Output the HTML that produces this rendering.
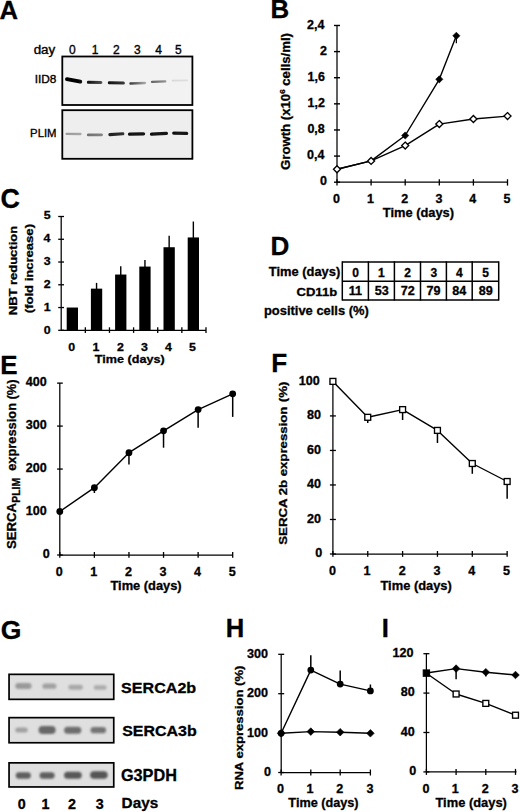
<!DOCTYPE html>
<html><head><meta charset="utf-8"><style>
html,body{margin:0;padding:0;background:#fff;}
svg{display:block;font-family:"Liberation Sans",sans-serif;}
text{stroke:#000;stroke-width:0.3px;paint-order:stroke;}
</style></head><body>
<svg width="520" height="812" viewBox="0 0 520 812">
<defs>
<filter id="bl" filterUnits="userSpaceOnUse" x="0" y="0" width="520" height="812"><feGaussianBlur stdDeviation="0.55"/></filter>
<filter id="bl2" x="-30%" y="-100%" width="160%" height="300%"><feGaussianBlur stdDeviation="1.25"/></filter>
</defs>
<text transform="translate(-0.54 19.2) scale(1.000 1)" font-size="25.65" font-weight="bold" fill="#000">A</text>
<g fill="none">
<rect x="62.3" y="56.5" width="130.1" height="48.5" fill="#f2f2f2" stroke="#000" stroke-width="1.8"/>
<rect x="62.3" y="110.2" width="130.1" height="48.6" fill="#eeeeee" stroke="#000" stroke-width="1.8"/>
</g>
<linearGradient id="g5" gradientUnits="userSpaceOnUse" x1="65" x2="82.2" y1="0" y2="0"><stop offset="0" stop-color="#000"/><stop offset="1" stop-color="#080808"/></linearGradient>
<line x1="66.9" y1="79.1" x2="80.3" y2="81.7" stroke="url(#g5)" stroke-width="3.8" stroke-linecap="round" filter="url(#bl)"/>
<linearGradient id="g7" gradientUnits="userSpaceOnUse" x1="86.9" x2="102.4" y1="0" y2="0"><stop offset="0" stop-color="#0a0a0a"/><stop offset="1" stop-color="#555"/></linearGradient>
<line x1="88.4" y1="82.2" x2="100.9" y2="82.5" stroke="url(#g7)" stroke-width="3" stroke-linecap="round" filter="url(#bl)"/>
<linearGradient id="g9" gradientUnits="userSpaceOnUse" x1="107.8" x2="124.9" y1="0" y2="0"><stop offset="0" stop-color="#111"/><stop offset="1" stop-color="#3a3a3a"/></linearGradient>
<line x1="109.3" y1="82.8" x2="123.4" y2="83.1" stroke="url(#g9)" stroke-width="3" stroke-linecap="round" filter="url(#bl)"/>
<linearGradient id="g11" gradientUnits="userSpaceOnUse" x1="129.3" x2="146.2" y1="0" y2="0"><stop offset="0" stop-color="#3a3a3a"/><stop offset="1" stop-color="#b0b0b0"/></linearGradient>
<line x1="130.55" y1="83.5" x2="144.95" y2="82.9" stroke="url(#g11)" stroke-width="2.5" stroke-linecap="round" filter="url(#bl)"/>
<linearGradient id="g13" gradientUnits="userSpaceOnUse" x1="150.9" x2="166.4" y1="0" y2="0"><stop offset="0" stop-color="#606060"/><stop offset="1" stop-color="#959595"/></linearGradient>
<line x1="152.1" y1="81.9" x2="165.2" y2="81.4" stroke="url(#g13)" stroke-width="2.4" stroke-linecap="round" filter="url(#bl)"/>
<linearGradient id="g15" gradientUnits="userSpaceOnUse" x1="171.6" x2="188" y1="0" y2="0"><stop offset="0" stop-color="#d8d8d8"/><stop offset="1" stop-color="#dedede"/></linearGradient>
<line x1="172.55" y1="80.6" x2="187.05" y2="80.4" stroke="url(#g15)" stroke-width="1.9" stroke-linecap="round" filter="url(#bl)"/>
<linearGradient id="g17" gradientUnits="userSpaceOnUse" x1="65.4" x2="81.6" y1="0" y2="0"><stop offset="0" stop-color="#9a9a9a"/><stop offset="1" stop-color="#a8a8a8"/></linearGradient>
<line x1="66.55" y1="133.8" x2="80.45" y2="134" stroke="url(#g17)" stroke-width="2.3" stroke-linecap="round" filter="url(#bl)"/>
<linearGradient id="g19" gradientUnits="userSpaceOnUse" x1="86.9" x2="103" y1="0" y2="0"><stop offset="0" stop-color="#707070"/><stop offset="1" stop-color="#858585"/></linearGradient>
<line x1="88.25" y1="134.9" x2="101.65" y2="134.8" stroke="url(#g19)" stroke-width="2.7" stroke-linecap="round" filter="url(#bl)"/>
<linearGradient id="g21" gradientUnits="userSpaceOnUse" x1="108.3" x2="124.4" y1="0" y2="0"><stop offset="0" stop-color="#1e1e1e"/><stop offset="1" stop-color="#333"/></linearGradient>
<line x1="109.85" y1="134.6" x2="122.85" y2="133.8" stroke="url(#g21)" stroke-width="3.1" stroke-linecap="round" filter="url(#bl)"/>
<linearGradient id="g23" gradientUnits="userSpaceOnUse" x1="127.9" x2="145.2" y1="0" y2="0"><stop offset="0" stop-color="#101010"/><stop offset="1" stop-color="#181818"/></linearGradient>
<line x1="129.55" y1="134.2" x2="143.55" y2="133.9" stroke="url(#g23)" stroke-width="3.3" stroke-linecap="round" filter="url(#bl)"/>
<linearGradient id="g25" gradientUnits="userSpaceOnUse" x1="149.9" x2="168.1" y1="0" y2="0"><stop offset="0" stop-color="#101010"/><stop offset="1" stop-color="#181818"/></linearGradient>
<line x1="151.55" y1="134.2" x2="166.45" y2="133.4" stroke="url(#g25)" stroke-width="3.3" stroke-linecap="round" filter="url(#bl)"/>
<linearGradient id="g27" gradientUnits="userSpaceOnUse" x1="172.1" x2="188.3" y1="0" y2="0"><stop offset="0" stop-color="#101010"/><stop offset="1" stop-color="#181818"/></linearGradient>
<line x1="173.75" y1="133.1" x2="186.65" y2="133.4" stroke="url(#g27)" stroke-width="3.3" stroke-linecap="round" filter="url(#bl)"/>
<text transform="translate(33.66 54.41) scale(1.130 1)" font-size="11.87" font-weight="normal" fill="#000" style="stroke-width:0.35px">day</text>
<text transform="translate(68.97 54.2) scale(1.000 1)" font-size="12" font-weight="normal" fill="#000" style="stroke-width:0.35px">0</text>
<text transform="translate(91.82 54.2) scale(1.000 1)" font-size="12" font-weight="normal" fill="#000" style="stroke-width:0.35px">1</text>
<text transform="translate(113.07 54.2) scale(1.000 1)" font-size="12" font-weight="normal" fill="#000" style="stroke-width:0.35px">2</text>
<text transform="translate(133.9 54.2) scale(1.000 1)" font-size="12" font-weight="normal" fill="#000" style="stroke-width:0.35px">3</text>
<text transform="translate(155.3 54.2) scale(1.000 1)" font-size="12" font-weight="normal" fill="#000" style="stroke-width:0.35px">4</text>
<text transform="translate(174.97 54.2) scale(1.000 1)" font-size="12" font-weight="normal" fill="#000" style="stroke-width:0.35px">5</text>
<text transform="translate(34.73 82.89) scale(1.078 1)" font-size="10.99" font-weight="normal" fill="#000" style="stroke-width:0.35px">IID8</text>
<text transform="translate(30.09 137.2) scale(0.978 1)" font-size="11.59" font-weight="normal" fill="#000" style="stroke-width:0.35px">PLIM</text>
<text transform="translate(270.62 18.35) scale(1.000 1)" font-size="25.87" font-weight="bold" fill="#000">B</text>
<line x1="337" y1="25.5" x2="337" y2="182.2" stroke="#000" stroke-width="1.25"/>
<line x1="337" y1="182.2" x2="508" y2="182.2" stroke="#000" stroke-width="1.25"/>
<line x1="334" y1="182.2" x2="340" y2="182.2" stroke="#000" stroke-width="1.4"/>
<line x1="334" y1="156.08" x2="340" y2="156.08" stroke="#000" stroke-width="1.4"/>
<line x1="334" y1="129.96" x2="340" y2="129.96" stroke="#000" stroke-width="1.4"/>
<line x1="334" y1="103.84" x2="340" y2="103.84" stroke="#000" stroke-width="1.4"/>
<line x1="334" y1="77.72" x2="340" y2="77.72" stroke="#000" stroke-width="1.4"/>
<line x1="334" y1="51.6" x2="340" y2="51.6" stroke="#000" stroke-width="1.4"/>
<line x1="334" y1="25.48" x2="340" y2="25.48" stroke="#000" stroke-width="1.4"/>
<line x1="337" y1="179.2" x2="337" y2="185.6" stroke="#000" stroke-width="1.3"/>
<line x1="371.1" y1="179.2" x2="371.1" y2="185.6" stroke="#000" stroke-width="1.3"/>
<line x1="405.2" y1="179.2" x2="405.2" y2="185.6" stroke="#000" stroke-width="1.3"/>
<line x1="439.3" y1="179.2" x2="439.3" y2="185.6" stroke="#000" stroke-width="1.3"/>
<line x1="473.4" y1="179.2" x2="473.4" y2="185.6" stroke="#000" stroke-width="1.3"/>
<line x1="507.5" y1="179.2" x2="507.5" y2="185.6" stroke="#000" stroke-width="1.3"/>
<text transform="translate(319.97 185.4) scale(1.040 1)" font-size="12" font-weight="bold" fill="#000">0</text>
<text transform="translate(307.12 159.28) scale(1.040 1)" font-size="12" font-weight="bold" fill="#000">0,4</text>
<text transform="translate(307.43 133.16) scale(1.040 1)" font-size="12" font-weight="bold" fill="#000">0,8</text>
<text transform="translate(307.55 107.04) scale(1.040 1)" font-size="12" font-weight="bold" fill="#000">1,2</text>
<text transform="translate(307.49 80.92) scale(1.040 1)" font-size="12" font-weight="bold" fill="#000">1,6</text>
<text transform="translate(319.97 54.8) scale(1.040 1)" font-size="12" font-weight="bold" fill="#000">2</text>
<text transform="translate(307.12 28.68) scale(1.040 1)" font-size="12" font-weight="bold" fill="#000">2,4</text>
<text transform="translate(333.04 202.5) scale(1.040 1)" font-size="12" font-weight="bold" fill="#000">0</text>
<text transform="translate(366.89 202.5) scale(1.040 1)" font-size="12" font-weight="bold" fill="#000">1</text>
<text transform="translate(401.27 202.5) scale(1.040 1)" font-size="12" font-weight="bold" fill="#000">2</text>
<text transform="translate(435.4 202.5) scale(1.040 1)" font-size="12" font-weight="bold" fill="#000">3</text>
<text transform="translate(469.37 202.5) scale(1.040 1)" font-size="12" font-weight="bold" fill="#000">4</text>
<text transform="translate(503.51 202.5) scale(1.040 1)" font-size="12" font-weight="bold" fill="#000">5</text>
<text transform="translate(382.87 217.26) scale(1.064 1)" font-size="12.09" font-weight="bold" fill="#000">Time (days)</text>
<text transform="translate(289.9 170.0) rotate(-90)" font-size="13.2" font-weight="bold" textLength="137" lengthAdjust="spacingAndGlyphs">Growth (x10<tspan font-size="8" dy="-4.8">6</tspan><tspan dy="4.8"> cells/ml)</tspan></text>
<polyline points="337,169.3 371.1,160.9 405.2,135.5 439.3,79.3 456.35,35.8" fill="none" stroke="#000" stroke-width="1.4" stroke-linejoin="round"/>
<line x1="456.35" y1="35.8" x2="456.35" y2="43.3" stroke="#000" stroke-width="1.25"/>
<polyline points="337,169.3 371.1,160.9 405.2,145.6 439.3,124.1 473.4,119 507.5,116.1" fill="none" stroke="#000" stroke-width="1.4" stroke-linejoin="round"/>
<path d="M405.2 131.9L408.8 135.5L405.2 139.1L401.6 135.5Z" fill="#000" stroke="#000" stroke-width="0.6"/>
<path d="M439.3 75.7L442.9 79.3L439.3 82.9L435.7 79.3Z" fill="#000" stroke="#000" stroke-width="0.6"/>
<path d="M456.35 32.2L459.95 35.8L456.35 39.4L452.75 35.8Z" fill="#000" stroke="#000" stroke-width="0.6"/>
<path d="M337 165.8L340.5 169.3L337 172.8L333.5 169.3Z" fill="#fff" stroke="#000" stroke-width="1.35"/>
<path d="M371.1 157.4L374.6 160.9L371.1 164.4L367.6 160.9Z" fill="#fff" stroke="#000" stroke-width="1.35"/>
<path d="M405.2 142.1L408.7 145.6L405.2 149.1L401.7 145.6Z" fill="#fff" stroke="#000" stroke-width="1.35"/>
<path d="M439.3 120.6L442.8 124.1L439.3 127.6L435.8 124.1Z" fill="#fff" stroke="#000" stroke-width="1.35"/>
<path d="M473.4 115.5L476.9 119L473.4 122.5L469.9 119Z" fill="#fff" stroke="#000" stroke-width="1.35"/>
<path d="M507.5 112.6L511 116.1L507.5 119.6L504 116.1Z" fill="#fff" stroke="#000" stroke-width="1.35"/>
<text transform="translate(0.42 208.43) scale(1.000 1)" font-size="26.9" font-weight="bold" fill="#000">C</text>
<line x1="61.2" y1="216.5" x2="61.2" y2="330.3" stroke="#000" stroke-width="1.25"/>
<line x1="61.2" y1="330.3" x2="205.98" y2="330.3" stroke="#000" stroke-width="1.25"/>
<line x1="58.2" y1="330.3" x2="64" y2="330.3" stroke="#000" stroke-width="1.3"/>
<line x1="58.2" y1="307.54" x2="64" y2="307.54" stroke="#000" stroke-width="1.3"/>
<line x1="58.2" y1="284.78" x2="64" y2="284.78" stroke="#000" stroke-width="1.3"/>
<line x1="58.2" y1="262.02" x2="64" y2="262.02" stroke="#000" stroke-width="1.3"/>
<line x1="58.2" y1="239.26" x2="64" y2="239.26" stroke="#000" stroke-width="1.3"/>
<line x1="58.2" y1="216.5" x2="64" y2="216.5" stroke="#000" stroke-width="1.3"/>
<line x1="85.33" y1="327.3" x2="85.33" y2="332.9" stroke="#000" stroke-width="1.3"/>
<line x1="109.46" y1="327.3" x2="109.46" y2="332.9" stroke="#000" stroke-width="1.3"/>
<line x1="133.59" y1="327.3" x2="133.59" y2="332.9" stroke="#000" stroke-width="1.3"/>
<line x1="157.72" y1="327.3" x2="157.72" y2="332.9" stroke="#000" stroke-width="1.3"/>
<line x1="181.85" y1="327.3" x2="181.85" y2="332.9" stroke="#000" stroke-width="1.3"/>
<line x1="205.98" y1="327.3" x2="205.98" y2="332.9" stroke="#000" stroke-width="1.3"/>
<rect x="66.7" y="307.54" width="11.3" height="22.76" fill="#000"/>
<rect x="90.9" y="288.65" width="11.3" height="41.65" fill="#000"/>
<line x1="96.55" y1="282.9" x2="96.55" y2="289.65" stroke="#000" stroke-width="1.4"/>
<rect x="115.1" y="274.54" width="11.3" height="55.76" fill="#000"/>
<line x1="120.75" y1="266.2" x2="120.75" y2="275.54" stroke="#000" stroke-width="1.4"/>
<rect x="139.3" y="266.57" width="11.3" height="63.73" fill="#000"/>
<line x1="144.95" y1="260" x2="144.95" y2="267.57" stroke="#000" stroke-width="1.4"/>
<rect x="163.5" y="247.23" width="11.3" height="83.07" fill="#000"/>
<line x1="169.15" y1="235.8" x2="169.15" y2="248.23" stroke="#000" stroke-width="1.4"/>
<rect x="187.7" y="237.44" width="11.3" height="92.86" fill="#000"/>
<line x1="193.35" y1="221.5" x2="193.35" y2="238.44" stroke="#000" stroke-width="1.4"/>
<text transform="translate(43.82 334.23) scale(1.050 1)" font-size="11.8" font-weight="bold" fill="#000">0</text>
<text transform="translate(43.63 311.28) scale(1.050 1)" font-size="11.8" font-weight="bold" fill="#000">1</text>
<text transform="translate(43.82 288.33) scale(1.050 1)" font-size="11.8" font-weight="bold" fill="#000">2</text>
<text transform="translate(43.76 265.38) scale(1.050 1)" font-size="11.8" font-weight="bold" fill="#000">3</text>
<text transform="translate(43.39 242.43) scale(1.050 1)" font-size="11.8" font-weight="bold" fill="#000">4</text>
<text transform="translate(43.63 219.48) scale(1.050 1)" font-size="11.8" font-weight="bold" fill="#000">5</text>
<text transform="translate(68.16 350.63) scale(1.050 1)" font-size="11.8" font-weight="bold" fill="#000">0</text>
<text transform="translate(92.61 350.63) scale(1.050 1)" font-size="11.8" font-weight="bold" fill="#000">1</text>
<text transform="translate(116.89 350.63) scale(1.050 1)" font-size="11.8" font-weight="bold" fill="#000">2</text>
<text transform="translate(141.12 350.63) scale(1.050 1)" font-size="11.8" font-weight="bold" fill="#000">3</text>
<text transform="translate(165.1 350.63) scale(1.050 1)" font-size="11.8" font-weight="bold" fill="#000">4</text>
<text transform="translate(188.93 350.63) scale(1.050 1)" font-size="11.8" font-weight="bold" fill="#000">5</text>
<text transform="translate(94.87 363.43) scale(1.073 1)" font-size="11.76" font-weight="bold" fill="#000">Time (days)</text>
<text transform="translate(16.59 315.24) rotate(-90) scale(1.149 1)" font-size="11.29" font-weight="bold" fill="#000">NBT reduction</text>
<text transform="translate(33.03 313.15) rotate(-90) scale(1.208 1)" font-size="10.8" font-weight="bold" fill="#000">(fold increase)</text>
<text transform="translate(270.6 254.7) scale(1.000 1)" font-size="26.09" font-weight="bold" fill="#000">D</text>
<line x1="342.3" y1="261.3" x2="342.3" y2="300.6" stroke="#000" stroke-width="1.5"/>
<line x1="368.4" y1="261.3" x2="368.4" y2="300.6" stroke="#000" stroke-width="1.5"/>
<line x1="394.4" y1="261.3" x2="394.4" y2="300.6" stroke="#000" stroke-width="1.5"/>
<line x1="420.5" y1="261.3" x2="420.5" y2="300.6" stroke="#000" stroke-width="1.5"/>
<line x1="446.4" y1="261.3" x2="446.4" y2="300.6" stroke="#000" stroke-width="1.5"/>
<line x1="472.2" y1="261.3" x2="472.2" y2="300.6" stroke="#000" stroke-width="1.5"/>
<line x1="498.7" y1="261.3" x2="498.7" y2="300.6" stroke="#000" stroke-width="1.5"/>
<line x1="342.3" y1="262" x2="498.7" y2="262" stroke="#000" stroke-width="1.5"/>
<line x1="342.3" y1="281.2" x2="498.7" y2="281.2" stroke="#000" stroke-width="1.5"/>
<line x1="342.3" y1="299.9" x2="498.7" y2="299.9" stroke="#000" stroke-width="1.5"/>
<text transform="translate(352.22 276.5) scale(1.000 1)" font-size="12" font-weight="bold" fill="#000">0</text>
<text transform="translate(348.65 295.2) scale(1.050 1)" font-size="12" font-weight="bold" fill="#000">11</text>
<text transform="translate(378.03 276.5) scale(1.000 1)" font-size="12" font-weight="bold" fill="#000">1</text>
<text transform="translate(374.64 295.2) scale(1.050 1)" font-size="12" font-weight="bold" fill="#000">53</text>
<text transform="translate(404.35 276.5) scale(1.000 1)" font-size="12" font-weight="bold" fill="#000">2</text>
<text transform="translate(400.63 295.2) scale(1.050 1)" font-size="12" font-weight="bold" fill="#000">72</text>
<text transform="translate(430.38 276.5) scale(1.000 1)" font-size="12" font-weight="bold" fill="#000">3</text>
<text transform="translate(426.59 295.2) scale(1.050 1)" font-size="12" font-weight="bold" fill="#000">79</text>
<text transform="translate(456.11 276.5) scale(1.000 1)" font-size="12" font-weight="bold" fill="#000">4</text>
<text transform="translate(452.35 295.2) scale(1.050 1)" font-size="12" font-weight="bold" fill="#000">84</text>
<text transform="translate(482.29 276.5) scale(1.000 1)" font-size="12" font-weight="bold" fill="#000">5</text>
<text transform="translate(478.69 295.2) scale(1.050 1)" font-size="12" font-weight="bold" fill="#000">89</text>
<text transform="translate(268.87 275.68) scale(1.076 1)" font-size="11.98" font-weight="bold" fill="#000">Time (days)</text>
<text transform="translate(296.48 295.88) scale(1.130 1)" font-size="11.56" font-weight="bold" fill="#000">CD11b</text>
<text transform="translate(263.96 315.1) scale(1.008 1)" font-size="12.83" font-weight="bold" fill="#000">positive cells (%)</text>
<text transform="translate(0.16 373.5) scale(1.000 1)" font-size="25.94" font-weight="bold" fill="#000">E</text>
<line x1="59.8" y1="383.1" x2="59.8" y2="555" stroke="#000" stroke-width="1.25"/>
<line x1="59.8" y1="555" x2="232.7" y2="555" stroke="#000" stroke-width="1.25"/>
<line x1="57.1" y1="555" x2="62.8" y2="555" stroke="#000" stroke-width="1.3"/>
<line x1="57.1" y1="512.03" x2="62.8" y2="512.03" stroke="#000" stroke-width="1.3"/>
<line x1="57.1" y1="469.06" x2="62.8" y2="469.06" stroke="#000" stroke-width="1.3"/>
<line x1="57.1" y1="426.09" x2="62.8" y2="426.09" stroke="#000" stroke-width="1.3"/>
<line x1="57.1" y1="383.12" x2="62.8" y2="383.12" stroke="#000" stroke-width="1.3"/>
<line x1="59.8" y1="552" x2="59.8" y2="557.8" stroke="#000" stroke-width="1.3"/>
<line x1="94.38" y1="552" x2="94.38" y2="557.8" stroke="#000" stroke-width="1.3"/>
<line x1="128.96" y1="552" x2="128.96" y2="557.8" stroke="#000" stroke-width="1.3"/>
<line x1="163.54" y1="552" x2="163.54" y2="557.8" stroke="#000" stroke-width="1.3"/>
<line x1="198.12" y1="552" x2="198.12" y2="557.8" stroke="#000" stroke-width="1.3"/>
<line x1="232.7" y1="552" x2="232.7" y2="557.8" stroke="#000" stroke-width="1.3"/>
<line x1="94.38" y1="487.7" x2="94.38" y2="493" stroke="#000" stroke-width="1.5"/>
<line x1="128.96" y1="452.7" x2="128.96" y2="464.6" stroke="#000" stroke-width="1.5"/>
<line x1="163.54" y1="430.8" x2="163.54" y2="447.7" stroke="#000" stroke-width="1.5"/>
<line x1="198.12" y1="409.6" x2="198.12" y2="427.7" stroke="#000" stroke-width="1.5"/>
<line x1="232.7" y1="393.8" x2="232.7" y2="416.9" stroke="#000" stroke-width="1.5"/>
<polyline points="59.8,511.5 94.38,487.7 128.96,452.7 163.54,430.8 198.12,409.6 232.7,393.8" fill="none" stroke="#000" stroke-width="1.4" stroke-linejoin="round"/>
<circle cx="59.8" cy="511.5" r="3.4" fill="#000"/>
<circle cx="94.38" cy="487.7" r="3.4" fill="#000"/>
<circle cx="128.96" cy="452.7" r="3.4" fill="#000"/>
<circle cx="163.54" cy="430.8" r="3.4" fill="#000"/>
<circle cx="198.12" cy="409.6" r="3.4" fill="#000"/>
<circle cx="232.7" cy="393.8" r="3.4" fill="#000"/>
<text transform="translate(42.71 557.9) scale(1.050 1)" font-size="12" font-weight="bold" fill="#000">0</text>
<text transform="translate(25.82 514.93) scale(1.050 1)" font-size="12" font-weight="bold" fill="#000">100</text>
<text transform="translate(25.82 471.96) scale(1.050 1)" font-size="12" font-weight="bold" fill="#000">200</text>
<text transform="translate(25.82 428.99) scale(1.050 1)" font-size="12" font-weight="bold" fill="#000">300</text>
<text transform="translate(25.82 386.02) scale(1.050 1)" font-size="12" font-weight="bold" fill="#000">400</text>
<text transform="translate(55.8 575.5) scale(1.050 1)" font-size="12" font-weight="bold" fill="#000">0</text>
<text transform="translate(90.13 575.5) scale(1.050 1)" font-size="12" font-weight="bold" fill="#000">1</text>
<text transform="translate(124.99 575.5) scale(1.050 1)" font-size="12" font-weight="bold" fill="#000">2</text>
<text transform="translate(159.61 575.5) scale(1.050 1)" font-size="12" font-weight="bold" fill="#000">3</text>
<text transform="translate(194.06 575.5) scale(1.050 1)" font-size="12" font-weight="bold" fill="#000">4</text>
<text transform="translate(228.67 575.5) scale(1.050 1)" font-size="12" font-weight="bold" fill="#000">5</text>
<text transform="translate(110.47 590.37) scale(1.027 1)" font-size="12.51" font-weight="bold" fill="#000">Time (days)</text>
<text transform="translate(15.86 548.89) rotate(-90) scale(0.962 1)" font-size="13.66" font-weight="bold" fill="#000">SERCA</text>
<text transform="translate(19.8 502.68) rotate(-90) scale(0.999 1)" font-size="10.43" font-weight="bold" fill="#000">PLIM</text>
<text transform="translate(15.81 470.81) rotate(-90) scale(0.970 1)" font-size="13.26" font-weight="bold" fill="#000">expression (%)</text>
<text transform="translate(271.2 372.4) scale(1.000 1)" font-size="26.09" font-weight="bold" fill="#000">F</text>
<line x1="332.9" y1="381.3" x2="332.9" y2="554" stroke="#000" stroke-width="1.25"/>
<line x1="332.9" y1="554" x2="507.15" y2="554" stroke="#000" stroke-width="1.25"/>
<line x1="329.9" y1="554" x2="335.9" y2="554" stroke="#000" stroke-width="1.3"/>
<line x1="329.9" y1="519.48" x2="335.9" y2="519.48" stroke="#000" stroke-width="1.3"/>
<line x1="329.9" y1="484.96" x2="335.9" y2="484.96" stroke="#000" stroke-width="1.3"/>
<line x1="329.9" y1="450.44" x2="335.9" y2="450.44" stroke="#000" stroke-width="1.3"/>
<line x1="329.9" y1="415.92" x2="335.9" y2="415.92" stroke="#000" stroke-width="1.3"/>
<line x1="329.9" y1="381.4" x2="335.9" y2="381.4" stroke="#000" stroke-width="1.3"/>
<line x1="332.9" y1="551" x2="332.9" y2="556.8" stroke="#000" stroke-width="1.3"/>
<line x1="367.75" y1="551" x2="367.75" y2="556.8" stroke="#000" stroke-width="1.3"/>
<line x1="402.6" y1="551" x2="402.6" y2="556.8" stroke="#000" stroke-width="1.3"/>
<line x1="437.45" y1="551" x2="437.45" y2="556.8" stroke="#000" stroke-width="1.3"/>
<line x1="472.3" y1="551" x2="472.3" y2="556.8" stroke="#000" stroke-width="1.3"/>
<line x1="507.15" y1="551" x2="507.15" y2="556.8" stroke="#000" stroke-width="1.3"/>
<line x1="367.75" y1="417.3" x2="367.75" y2="423" stroke="#000" stroke-width="1.5"/>
<line x1="402.6" y1="409.6" x2="402.6" y2="420" stroke="#000" stroke-width="1.5"/>
<line x1="437.45" y1="430.4" x2="437.45" y2="443" stroke="#000" stroke-width="1.5"/>
<line x1="472.3" y1="463.5" x2="472.3" y2="473.8" stroke="#000" stroke-width="1.5"/>
<line x1="507.15" y1="481.5" x2="507.15" y2="498.8" stroke="#000" stroke-width="1.5"/>
<polyline points="332.9,381.4 367.75,417.3 402.6,409.6 437.45,430.4 472.3,463.5 507.15,481.5" fill="none" stroke="#000" stroke-width="1.4" stroke-linejoin="round"/>
<rect x="329.95" y="378.45" width="5.9" height="5.9" fill="#fff" stroke="#000" stroke-width="1.35"/>
<rect x="364.8" y="414.35" width="5.9" height="5.9" fill="#fff" stroke="#000" stroke-width="1.35"/>
<rect x="399.65" y="406.65" width="5.9" height="5.9" fill="#fff" stroke="#000" stroke-width="1.35"/>
<rect x="434.5" y="427.45" width="5.9" height="5.9" fill="#fff" stroke="#000" stroke-width="1.35"/>
<rect x="469.35" y="460.55" width="5.9" height="5.9" fill="#fff" stroke="#000" stroke-width="1.35"/>
<rect x="504.2" y="478.55" width="5.9" height="5.9" fill="#fff" stroke="#000" stroke-width="1.35"/>
<text transform="translate(315.31 557.4) scale(1.050 1)" font-size="12" font-weight="bold" fill="#000">0</text>
<text transform="translate(307.12 522.88) scale(1.050 1)" font-size="12" font-weight="bold" fill="#000">20</text>
<text transform="translate(307.12 488.36) scale(1.050 1)" font-size="12" font-weight="bold" fill="#000">40</text>
<text transform="translate(307.12 453.84) scale(1.050 1)" font-size="12" font-weight="bold" fill="#000">60</text>
<text transform="translate(307.12 419.32) scale(1.050 1)" font-size="12" font-weight="bold" fill="#000">80</text>
<text transform="translate(298.82 384.8) scale(1.050 1)" font-size="12" font-weight="bold" fill="#000">100</text>
<text transform="translate(328.9 574.7) scale(1.050 1)" font-size="12" font-weight="bold" fill="#000">0</text>
<text transform="translate(363.5 574.7) scale(1.050 1)" font-size="12" font-weight="bold" fill="#000">1</text>
<text transform="translate(398.63 574.7) scale(1.050 1)" font-size="12" font-weight="bold" fill="#000">2</text>
<text transform="translate(433.52 574.7) scale(1.050 1)" font-size="12" font-weight="bold" fill="#000">3</text>
<text transform="translate(468.24 574.7) scale(1.050 1)" font-size="12" font-weight="bold" fill="#000">4</text>
<text transform="translate(503.12 574.7) scale(1.050 1)" font-size="12" font-weight="bold" fill="#000">5</text>
<text transform="translate(380.47 589.95) scale(1.021 1)" font-size="12.62" font-weight="bold" fill="#000">Time (days)</text>
<text transform="translate(287.23 544.7) rotate(-90) scale(1.223 1)" font-size="10.8" font-weight="bold" fill="#000">SERCA 2b expression</text>
<text transform="translate(287.48 402.27) rotate(-90) scale(1.259 1)" font-size="10.59" font-weight="bold" fill="#000">(%)</text>
<text transform="translate(0.79 638.68) scale(1.000 1)" font-size="26.55" font-weight="bold" fill="#000">G</text>
<rect x="9.05" y="674.35" width="104.7" height="25" fill="#dfdfdf" stroke="#000" stroke-width="1.7"/>
<rect x="9.05" y="717.65" width="104.7" height="25.1" fill="#dfdfdf" stroke="#000" stroke-width="1.7"/>
<rect x="9.05" y="762.85" width="104.7" height="24.1" fill="#dfdfdf" stroke="#000" stroke-width="1.7"/>
<rect x="15.3" y="683.1" width="16.3" height="5.8" rx="2.9" ry="2.9" fill="#9a9a9a" filter="url(#bl2)"/>
<rect x="42.4" y="683.6" width="14" height="5.2" rx="2.6" ry="2.6" fill="#a0a0a0" filter="url(#bl2)"/>
<rect x="68.35" y="684.7" width="14.5" height="5" rx="2.5" ry="2.5" fill="#a8a8a8" filter="url(#bl2)"/>
<rect x="93.75" y="685.15" width="12.9" height="4.5" rx="2.25" ry="2.25" fill="#ababab" filter="url(#bl2)"/>
<rect x="15.3" y="727.6" width="12.4" height="5" rx="2.5" ry="2.5" fill="#a0a0a0" filter="url(#bl2)"/>
<rect x="38.55" y="725.95" width="17.1" height="8.1" rx="4.05" ry="4.05" fill="#686868" filter="url(#bl2)"/>
<rect x="64.1" y="726.75" width="17.2" height="7.1" rx="3.55" ry="3.55" fill="#6e6e6e" filter="url(#bl2)"/>
<rect x="90.55" y="727.1" width="15.5" height="6.2" rx="3.1" ry="3.1" fill="#747474" filter="url(#bl2)"/>
<rect x="15.75" y="772.25" width="15.1" height="6.5" rx="3.25" ry="3.25" fill="#5e5e5e" filter="url(#bl2)"/>
<rect x="39.55" y="772.25" width="15.1" height="6.5" rx="3.25" ry="3.25" fill="#5e5e5e" filter="url(#bl2)"/>
<rect x="64.05" y="771.8" width="17.7" height="7" rx="3.5" ry="3.5" fill="#585858" filter="url(#bl2)"/>
<rect x="90.1" y="771.2" width="17.6" height="7.6" rx="3.8" ry="3.8" fill="#555555" filter="url(#bl2)"/>
<text transform="translate(121.12 693.45) scale(1.075 1)" font-size="14.97" font-weight="bold" fill="#000">SERCA2b</text>
<text transform="translate(122.22 736.26) scale(1.118 1)" font-size="14.29" font-weight="bold" fill="#000">SERCA3b</text>
<text transform="translate(120.95 781.04) scale(1.040 1)" font-size="15.63" font-weight="bold" fill="#000">G3PDH</text>
<text transform="translate(17.68 809.37) scale(1.030 1)" font-size="13.9" font-weight="bold" fill="#000">0</text>
<text transform="translate(41.39 809.37) scale(1.030 1)" font-size="13.9" font-weight="bold" fill="#000">1</text>
<text transform="translate(68.01 809.37) scale(1.030 1)" font-size="13.9" font-weight="bold" fill="#000">2</text>
<text transform="translate(95.85 809.37) scale(1.030 1)" font-size="13.9" font-weight="bold" fill="#000">3</text>
<text transform="translate(121.6 808.1) scale(1.037 1)" font-size="14.78" font-weight="bold" fill="#000">Days</text>
<text transform="translate(225.63 637.4) scale(1.000 1)" font-size="25.65" font-weight="bold" fill="#000">H</text>
<line x1="281.2" y1="654.2" x2="281.2" y2="772.5" stroke="#000" stroke-width="1.25"/>
<line x1="281.2" y1="772.5" x2="370.4" y2="772.5" stroke="#000" stroke-width="1.25"/>
<line x1="278.2" y1="772.5" x2="284.2" y2="772.5" stroke="#000" stroke-width="1.3"/>
<line x1="278.2" y1="733.1" x2="284.2" y2="733.1" stroke="#000" stroke-width="1.3"/>
<line x1="278.2" y1="693.7" x2="284.2" y2="693.7" stroke="#000" stroke-width="1.3"/>
<line x1="278.2" y1="654.3" x2="284.2" y2="654.3" stroke="#000" stroke-width="1.3"/>
<line x1="281.1" y1="769.5" x2="281.1" y2="775.5" stroke="#000" stroke-width="1.3"/>
<line x1="310.8" y1="769.5" x2="310.8" y2="775.5" stroke="#000" stroke-width="1.3"/>
<line x1="340.2" y1="769.5" x2="340.2" y2="775.5" stroke="#000" stroke-width="1.3"/>
<line x1="370.4" y1="769.5" x2="370.4" y2="775.5" stroke="#000" stroke-width="1.3"/>
<line x1="310.8" y1="670.1" x2="310.8" y2="655.2" stroke="#000" stroke-width="1.5"/>
<line x1="340.2" y1="684.1" x2="340.2" y2="670.6" stroke="#000" stroke-width="1.5"/>
<line x1="370.4" y1="690.9" x2="370.4" y2="684.5" stroke="#000" stroke-width="1.5"/>
<polyline points="281.1,733.3 310.8,670.1 340.2,684.1 370.4,690.9" fill="none" stroke="#000" stroke-width="1.4" stroke-linejoin="round"/>
<polyline points="281.1,733.3 310.8,731.6 340.2,732.2 370.4,733.3" fill="none" stroke="#000" stroke-width="1.4" stroke-linejoin="round"/>
<circle cx="281.1" cy="733.3" r="3.4" fill="#000"/>
<circle cx="310.8" cy="670.1" r="3.4" fill="#000"/>
<circle cx="340.2" cy="684.1" r="3.4" fill="#000"/>
<circle cx="370.4" cy="690.9" r="3.4" fill="#000"/>
<path d="M281.1 729.5L284.9 733.3L281.1 737.1L277.3 733.3Z" fill="#000" stroke="#000" stroke-width="0.6"/>
<path d="M310.8 727.8L314.6 731.6L310.8 735.4L307 731.6Z" fill="#000" stroke="#000" stroke-width="0.6"/>
<path d="M340.2 728.4L344 732.2L340.2 736L336.4 732.2Z" fill="#000" stroke="#000" stroke-width="0.6"/>
<path d="M370.4 729.5L374.2 733.3L370.4 737.1L366.6 733.3Z" fill="#000" stroke="#000" stroke-width="0.6"/>
<text transform="translate(264.11 775.9) scale(1.050 1)" font-size="12" font-weight="bold" fill="#000">0</text>
<text transform="translate(246.92 736.5) scale(1.050 1)" font-size="12" font-weight="bold" fill="#000">100</text>
<text transform="translate(246.92 697.1) scale(1.050 1)" font-size="12" font-weight="bold" fill="#000">200</text>
<text transform="translate(246.92 657.7) scale(1.050 1)" font-size="12" font-weight="bold" fill="#000">300</text>
<text transform="translate(277.1 792.5) scale(1.050 1)" font-size="12" font-weight="bold" fill="#000">0</text>
<text transform="translate(306.55 792.5) scale(1.050 1)" font-size="12" font-weight="bold" fill="#000">1</text>
<text transform="translate(336.24 792.5) scale(1.050 1)" font-size="12" font-weight="bold" fill="#000">2</text>
<text transform="translate(366.47 792.5) scale(1.050 1)" font-size="12" font-weight="bold" fill="#000">3</text>
<text transform="translate(288.37 807.28) scale(0.980 1)" font-size="12.94" font-weight="bold" fill="#000">Time (days)</text>
<text transform="translate(243.06 790.05) rotate(-90) scale(1.177 1)" font-size="11.12" font-weight="bold" fill="#000">RNA expression (%)</text>
<text transform="translate(381.73 637.1) scale(1.000 1)" font-size="25.65" font-weight="bold" fill="#000">I</text>
<line x1="426.4" y1="653.5" x2="426.4" y2="771.9" stroke="#000" stroke-width="1.25"/>
<line x1="426.4" y1="771.9" x2="516.5" y2="771.9" stroke="#000" stroke-width="1.25"/>
<line x1="423.4" y1="771.9" x2="429.4" y2="771.9" stroke="#000" stroke-width="1.3"/>
<line x1="423.4" y1="732.5" x2="429.4" y2="732.5" stroke="#000" stroke-width="1.3"/>
<line x1="423.4" y1="693.1" x2="429.4" y2="693.1" stroke="#000" stroke-width="1.3"/>
<line x1="423.4" y1="653.7" x2="429.4" y2="653.7" stroke="#000" stroke-width="1.3"/>
<line x1="426.4" y1="768.9" x2="426.4" y2="774.9" stroke="#000" stroke-width="1.3"/>
<line x1="456.1" y1="768.9" x2="456.1" y2="774.9" stroke="#000" stroke-width="1.3"/>
<line x1="485.8" y1="768.9" x2="485.8" y2="774.9" stroke="#000" stroke-width="1.3"/>
<line x1="515.5" y1="768.9" x2="515.5" y2="774.9" stroke="#000" stroke-width="1.3"/>
<line x1="456.1" y1="668.6" x2="456.1" y2="679.2" stroke="#000" stroke-width="1.5"/>
<line x1="485.8" y1="672.2" x2="485.8" y2="676.5" stroke="#000" stroke-width="1.5"/>
<polyline points="426.4,673.2 456.1,694 485.8,703.4 515.5,715.2" fill="none" stroke="#000" stroke-width="1.4" stroke-linejoin="round"/>
<polyline points="426.4,673 456.1,668.6 485.8,672.2 515.5,675" fill="none" stroke="#000" stroke-width="1.4" stroke-linejoin="round"/>
<rect x="453.15" y="691.05" width="5.9" height="5.9" fill="#fff" stroke="#000" stroke-width="1.35"/>
<rect x="482.85" y="700.45" width="5.9" height="5.9" fill="#fff" stroke="#000" stroke-width="1.35"/>
<rect x="512.55" y="712.25" width="5.9" height="5.9" fill="#fff" stroke="#000" stroke-width="1.35"/>
<rect x="423.2" y="669.9" width="6.4" height="6.4" fill="#000" stroke="#000" stroke-width="1"/>
<path d="M456.1 664.8L459.9 668.6L456.1 672.4L452.3 668.6Z" fill="#000" stroke="#000" stroke-width="0.6"/>
<path d="M485.8 668.4L489.6 672.2L485.8 676L482 672.2Z" fill="#000" stroke="#000" stroke-width="0.6"/>
<path d="M515.5 671.2L519.3 675L515.5 678.8L511.7 675Z" fill="#000" stroke="#000" stroke-width="0.6"/>
<text transform="translate(409.31 775.1) scale(1.050 1)" font-size="12" font-weight="bold" fill="#000">0</text>
<text transform="translate(400.82 735.7) scale(1.050 1)" font-size="12" font-weight="bold" fill="#000">40</text>
<text transform="translate(400.82 696.3) scale(1.050 1)" font-size="12" font-weight="bold" fill="#000">80</text>
<text transform="translate(392.52 656.9) scale(1.050 1)" font-size="12" font-weight="bold" fill="#000">120</text>
<text transform="translate(422.4 792.5) scale(1.050 1)" font-size="12" font-weight="bold" fill="#000">0</text>
<text transform="translate(451.85 792.5) scale(1.050 1)" font-size="12" font-weight="bold" fill="#000">1</text>
<text transform="translate(481.83 792.5) scale(1.050 1)" font-size="12" font-weight="bold" fill="#000">2</text>
<text transform="translate(511.57 792.5) scale(1.050 1)" font-size="12" font-weight="bold" fill="#000">3</text>
<text transform="translate(435.47 807.15) scale(1.022 1)" font-size="12.62" font-weight="bold" fill="#000">Time (days)</text>
</svg>
</body></html>
